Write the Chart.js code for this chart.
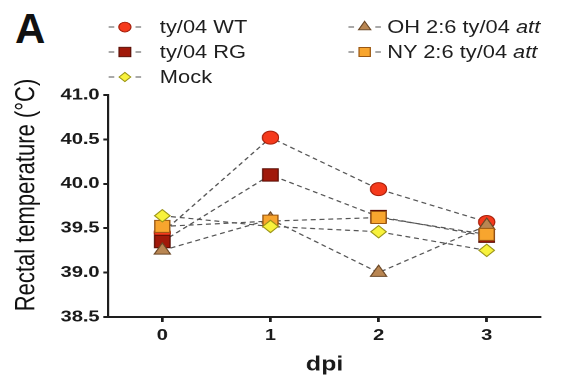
<!DOCTYPE html>
<html>
<head>
<meta charset="utf-8">
<script src="https://cdn.jsdelivr.net/npm/chart.js@4"></script>
<style>
  html, body { margin: 0; padding: 0; background: #fff; }
  body { width: 567px; height: 383px; position: relative; overflow: hidden; font-family: "Liberation Sans", Arial, sans-serif; }
  #panel { position: absolute; left: 15px; top: 7.5px; font: bold 42px/42px "Liberation Sans", Arial, sans-serif; color: #111; }
  #wrap { position: absolute; left: 0; top: 0; width: 454px; height: 383px; transform: scaleX(1.2489); transform-origin: 0 0; }
  #c { position: absolute; left: 0; top: 0; }
  .lg { position: absolute; height: 20px; line-height: 20px; font-size: 17.5px; color: #1e1e1e; white-space: nowrap; }
  .lg svg { position: absolute; top: 2px; }
</style>
</head>
<body>
<div id="panel">A</div>
<div id="wrap">
  <canvas id="c" width="454" height="383"></canvas>
  <div id="legend"></div>
</div>
<script>
// ---- data ----
const dpi = [0, 1, 2, 3];
const yTicks = [38.5, 39.0, 39.5, 40.0, 40.5, 41.0];
const xTicks = [0, 1, 2, 3];
const seriesNames = ["ty/04 WT", "ty/04 RG", "Mock", "OH 2:6 ty/04 ", "NY 2:6 ty/04 "];
const wt   = [39.45, 40.52, 39.94, 39.57];
const rg   = [39.35, 40.10, 39.63, 39.41];
const mock = [39.64, 39.52, 39.46, 39.25];
const oh   = [39.25, 39.60, 39.00, 39.53];
const ny   = [39.52, 39.58, 39.62, 39.43];

// ---- styles ----
const styles = [
  { data: wt,   shape: 'circle',   r: 6.5, fill: '#f53a1c', stroke: '#a8200c', order: 4 },
  { data: rg,   shape: 'rect',     r: 8.8, fill: '#a1190a', stroke: '#5a0e04', order: 3 },
  { data: mock, shape: 'rectRot',  r: 6.2, fill: '#f8f23c', stroke: '#9a9418', order: 0 },
  { data: oh,   shape: 'triangle', r: 7.5, fill: '#b98652', stroke: '#6b4827', order: 2 },
  { data: ny,   shape: 'rect',     r: 8.5, fill: '#f8a52e', stroke: '#9a5814', order: 1 }
];

const datasets = styles.map((s, i) => ({
  label: seriesNames[i],
  data: dpi.map((d, j) => ({ x: d, y: s.data[j] })),
  borderColor: '#555',
  borderWidth: 1.2,
  borderDash: [4, 3],
  fill: false,
  tension: 0,
  pointStyle: s.shape,
  pointRadius: s.r,
  pointHoverRadius: s.r,
  pointBackgroundColor: s.fill,
  pointBorderColor: s.stroke,
  pointBorderWidth: 1,
  order: s.order
}));

const axisColor = '#1e1e1e';
function shiftTitle(sc, dy) {
  if (sc._titleShifted) return;
  sc._titleShifted = true;
  const orig = sc.drawTitle;
  sc.drawTitle = function () {
    const ctx = this.ctx;
    ctx.save();
    ctx.translate(0, dy);
    orig.apply(this, arguments);
    ctx.restore();
  };
}
new Chart(document.getElementById('c'), {
  type: 'line',
  data: { datasets },
  options: {
    responsive: false,
    animation: false,
    devicePixelRatio: 2,
    layout: { padding: { top: 95, right: 21, bottom: 0, left: 0 } },
    plugins: { legend: { display: false }, tooltip: { enabled: false } },
    scales: {
      x: {
        type: 'linear', min: -0.5, max: 3.5,
        afterBuildTicks: sc => { sc.ticks = xTicks.map(v => ({ value: v })); },
        afterFit: sc => { sc.height = 66; },
        ticks: { color: '#1a1a1a', font: { family: 'Liberation Sans', weight: 'bold', size: 16 }, padding: 4, callback: v => String(v) },
        grid: { drawOnChartArea: false, drawTicks: true, tickLength: 5, tickColor: axisColor, tickWidth: 2 },
        border: { display: true, color: axisColor, width: 2 },
        title: { display: true, text: 'dpi', color: '#1a1a1a', font: { family: 'Liberation Sans', weight: 'bold', size: 20 }, padding: { top: 0, bottom: 6 } }
      },
      y: {
        type: 'linear', min: 38.5, max: 41.0,
        afterBuildTicks: sc => { sc.ticks = yTicks.map(v => ({ value: v })); },
        afterFit: sc => { sc.width = 86.7; shiftTitle(sc, -11); },
        ticks: { color: '#1a1a1a', font: { family: 'Liberation Sans', weight: 'bold', size: 16 }, padding: 3, callback: v => Number(v).toFixed(1) },
        grid: { drawOnChartArea: false, drawTicks: true, tickLength: 4, tickColor: axisColor, tickWidth: 2 },
        border: { display: true, color: axisColor, width: 2 },
        title: { display: true, text: 'Rectal temperature (°C)', color: '#111', font: { family: 'Liberation Sans', size: 22 }, padding: { top: 8, bottom: 0 } }
      }
    }
  }
});

// ---- legend (HTML) ----
const legendPos = [
  { mx: 100, ty: 27, tx: 128 }, { mx: 100, ty: 52, tx: 128 }, { mx: 100, ty: 77, tx: 128 },
  { mx: 292, ty: 27, tx: 310 }, { mx: 292, ty: 52, tx: 310 }
];
const legendScale = 0.75;
function markerSvg(s) {
  const r = s.r * legendScale, cx = 14, cy = 8;
  let shape = '';
  const st = `fill="${s.fill}" stroke="${s.stroke}" stroke-width="1"`;
  if (s.shape === 'circle') shape = `<circle cx="${cx}" cy="${cy}" r="${r}" ${st}/>`;
  else if (s.shape === 'rect') { const h = r * Math.SQRT1_2; shape = `<rect x="${cx - h}" y="${cy - h}" width="${2 * h}" height="${2 * h}" ${st}/>`; }
  else if (s.shape === 'rectRot') shape = `<polygon points="${cx - r},${cy} ${cx},${cy - r} ${cx + r},${cy} ${cx},${cy + r}" ${st}/>`;
  else if (s.shape === 'triangle') shape = `<polygon points="${cx},${cy - r} ${cx + r * 0.866},${cy + r / 2} ${cx - r * 0.866},${cy + r / 2}" ${st}/>`;
  const dash = `stroke="#555" stroke-width="1.2"`;
  return `<svg width="28" height="16" viewBox="0 0 28 16"><line x1="1" y1="${cy}" x2="5.5" y2="${cy}" ${dash}/><line x1="22.5" y1="${cy}" x2="27" y2="${cy}" ${dash}/>${shape}</svg>`;
}
const lg = document.getElementById('legend');
styles.forEach((s, i) => {
  const p = legendPos[i];
  const d = document.createElement('div');
  d.className = 'lg';
  d.style.left = (p.mx - 14) + 'px';
  d.style.top = (p.ty - 10) + 'px';
  const label = i >= 3 ? `${seriesNames[i]}<i>att</i>` : seriesNames[i];
  d.innerHTML = markerSvg(s) + `<span style="position:absolute;left:${p.tx - (p.mx - 14)}px;">${label}</span>`;
  lg.appendChild(d);
});
</script>
</body>
</html>
